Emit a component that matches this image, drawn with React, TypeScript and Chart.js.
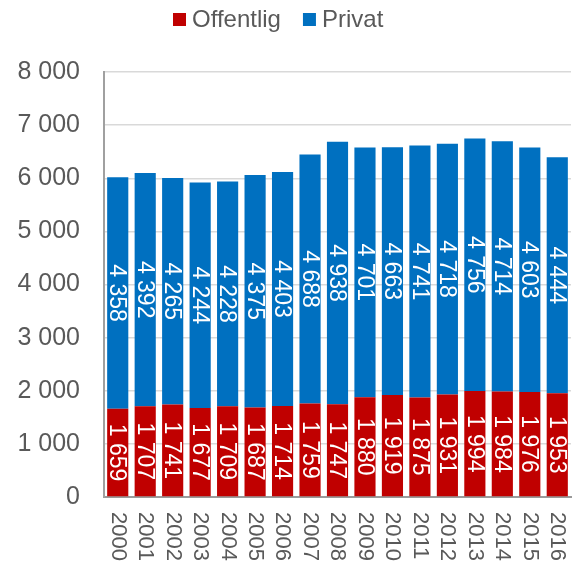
import React, { useEffect, useRef } from "react";
import { Chart, registerables } from "chart.js";

Chart.register(...registerables);

const years = ["2000","2001","2002","2003","2004","2005","2006","2007","2008","2009","2010","2011","2012","2013","2014","2015","2016"];
const offentlig = [1659,1707,1741,1677,1709,1687,1714,1759,1747,1880,1919,1875,1931,1994,1984,1976,1953];
const privat = [4358,4392,4265,4244,4228,4375,4403,4688,4938,4701,4663,4741,4718,4756,4714,4603,4444];
const yTicks = [0,1000,2000,3000,4000,5000,6000,7000,8000];
const seriesNames = ["Offentlig", "Privat"];
const seriesColors = ["#C00000", "#0070C0"];

const FONT = "'Liberation Sans', Arial, sans-serif";
const fmt = (n: number) => n.toString().replace(/\B(?=(\d{3})+(?!\d))/g, " ");

const labelsPlugin = {
  id: "customLabels",
  afterDatasetsDraw(chart: any) {
    const ctx = chart.ctx;
    ctx.save();
    ctx.fillStyle = "#ffffff";
    ctx.font = `23px ${FONT}`;
    ctx.textAlign = "center";
    ctx.textBaseline = "middle";
    chart.data.datasets.forEach((ds: any, di: number) => {
      const meta = chart.getDatasetMeta(di);
      meta.data.forEach((bar: any, i: number) => {
        const cy = (bar.y + bar.base) / 2;
        ctx.save();
        ctx.translate(bar.x, cy);
        ctx.rotate(Math.PI / 2);
        ctx.fillText(fmt(ds.data[i]), 0, 1);
        ctx.restore();
      });
    });
    // x labels
    const xs = chart.scales.x;
    const top = chart.chartArea.bottom + 15;
    ctx.fillStyle = "#595959";
    ctx.font = `22px ${FONT}`;
    ctx.textAlign = "left";
    ctx.textBaseline = "middle";
    years.forEach((y, i) => {
      const x = xs.getPixelForValue(i);
      ctx.save();
      ctx.translate(x, top);
      ctx.rotate(Math.PI / 2);
      ctx.fillText(y, 0, 0);
      ctx.restore();
    });
    // legend
    ctx.font = `24px ${FONT}`;
    ctx.textBaseline = "alphabetic";
    ctx.textAlign = "left";
    let x = 173;
    seriesNames.forEach((name, i) => {
      ctx.fillStyle = seriesColors[i];
      ctx.fillRect(x, 13, 13, 13);
      x += 13 + 6;
      ctx.fillStyle = "#595959";
      ctx.fillText(name, x, 27);
      x += ctx.measureText(name).width + 22;
    });
    ctx.restore();
  },
};

export default function App() {
  const ref = useRef<HTMLCanvasElement>(null);
  useEffect(() => {
    const chart = new Chart(ref.current!, {
      type: "bar",
      data: {
        labels: years,
        datasets: [
          { label: seriesNames[0], data: offentlig, backgroundColor: seriesColors[0], barPercentage: 0.77, categoryPercentage: 1 },
          { label: seriesNames[1], data: privat, backgroundColor: seriesColors[1], barPercentage: 0.77, categoryPercentage: 1 },
        ],
      },
      options: {
        animation: false,
        responsive: false,
        maintainAspectRatio: false,
        layout: { padding: { left: 0, right: 1, top: 72, bottom: 0 } },
        plugins: {
          legend: { display: false },
          tooltip: { enabled: false },
        },
        scales: {
          x: {
            stacked: true,
            grid: { display: false, drawTicks: false },
            border: { color: "#9a9a9a", width: 2 },
            ticks: { display: false },
            afterFit(scale: any) { scale.height = 67; },
          },
          y: {
            stacked: true,
            min: 0,
            max: 8000,
            afterBuildTicks(scale: any) { scale.ticks = yTicks.map((v) => ({ value: v })); },
            ticks: {
              color: "#595959",
              font: { family: FONT, size: 25 },
              padding: 24,
              callback: (v: any) => fmt(Number(v)),
            },
            grid: { color: "#d9d9d9", drawTicks: false, lineWidth: 1.5 },
            border: { color: "#a0a0a0", width: 2 },
            afterFit(scale: any) { scale.width = 104; },
          },
        },
      },
      plugins: [labelsPlugin],
    });
    return () => chart.destroy();
  }, []);
  return (
    <div style={{ position: "fixed", left: 0, top: 0, width: 572, height: 564, background: "#fff" }}>
      <canvas ref={ref} width={572} height={564} style={{ width: 572, height: 564 }} />
    </div>
  );
}
